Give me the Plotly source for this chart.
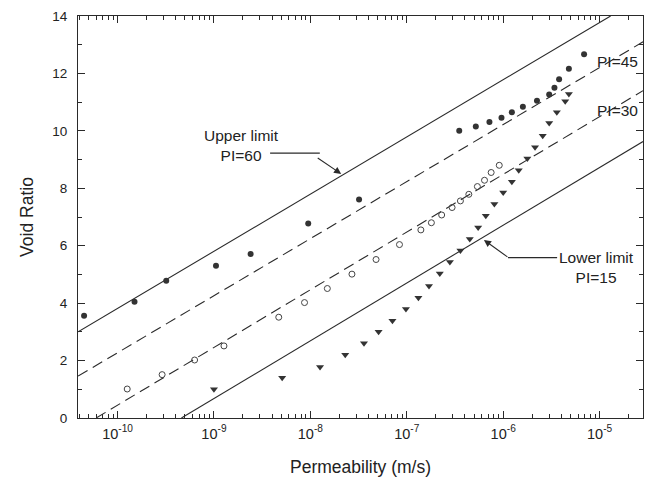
import plotly.graph_objects as go

# ---------------- data ----------------
# Bounding lines (endpoints, permeability in m/s, void ratio)
upper_k = [3.9e-11, 1.3e-5]
upper_e = [3.0, 14.0]
pi45_k = [3.9e-11, 2.82e-5]
pi45_e = [1.46, 13.1]
pi30_k = [6.0e-11, 2.82e-5]
pi30_e = [0.0, 11.4]
lower_k = [4.6e-10, 2.82e-5]
lower_e = [0.0, 9.63]

# Filled circles
fill_k = [4.5e-11, 1.5e-10, 3.2e-10, 1.05e-9, 2.4e-9, 9.5e-9, 3.2e-8,
          3.5e-7, 5.2e-7, 7.2e-7, 9.6e-7, 1.23e-6, 1.6e-6, 2.24e-6,
          3.0e-6, 3.4e-6, 3.8e-6, 4.8e-6, 6.9e-6]
fill_e = [3.56, 4.05, 4.78, 5.30, 5.71, 6.77, 7.61,
          10.00, 10.15, 10.31, 10.46, 10.65, 10.84, 11.05,
          11.27, 11.50, 11.80, 12.16, 12.67]

# Open circles
open_k = [1.26e-10, 2.9e-10, 6.3e-10, 1.27e-9, 4.7e-9, 8.7e-9, 1.5e-8,
          2.7e-8, 4.8e-8, 8.4e-8, 1.4e-7, 1.8e-7, 2.3e-7, 2.95e-7,
          3.6e-7, 4.4e-7, 5.4e-7, 6.4e-7, 7.5e-7, 9.1e-7]
open_e = [1.01, 1.51, 2.02, 2.51, 3.51, 4.02, 4.51,
          5.01, 5.52, 6.04, 6.55, 6.80, 7.07, 7.33,
          7.56, 7.79, 8.06, 8.28, 8.55, 8.80]

# Triangles
tri_k = [1.0e-9, 5.1e-9, 1.26e-8, 2.3e-8, 3.6e-8, 5.1e-8, 7.1e-8, 9.8e-8,
         1.32e-7, 1.7e-7, 2.2e-7, 2.8e-7, 3.6e-7, 4.5e-7, 5.5e-7, 6.6e-7,
         8.1e-7, 1.0e-6, 1.23e-6, 1.45e-6, 1.78e-6, 2.14e-6, 2.57e-6,
         3.0e-6, 3.6e-6, 4.4e-6, 4.8e-6]
tri_e = [1.00, 1.40, 1.78, 2.20, 2.60, 3.00, 3.39, 3.80,
         4.19, 4.60, 5.03, 5.43, 5.83, 6.23, 6.63, 7.04,
         7.45, 7.85, 8.23, 8.63, 9.04, 9.43, 9.83,
         10.27, 10.65, 11.03, 11.28]

x_tickvals = [1e-10, 1e-9, 1e-8, 1e-7, 1e-6, 1e-5]
x_ticktext = ["10<sup>-10</sup>", "10<sup>-9</sup>", "10<sup>-8</sup>",
              "10<sup>-7</sup>", "10<sup>-6</sup>", "10<sup>-5</sup>"]

# ---------------- figure ----------------
INK = "#2a2a2a"
FONT = "Liberation Sans, Arial, sans-serif"

fig = go.Figure()
fig.add_trace(go.Scatter(x=upper_k, y=upper_e, mode="lines",
                         line=dict(color=INK, width=1.1), showlegend=False))
fig.add_trace(go.Scatter(x=pi45_k, y=pi45_e, mode="lines",
                         line=dict(color=INK, width=1.1, dash="11px,6px"), showlegend=False))
fig.add_trace(go.Scatter(x=pi30_k, y=pi30_e, mode="lines",
                         line=dict(color=INK, width=1.1, dash="11px,6px"), showlegend=False))
fig.add_trace(go.Scatter(x=lower_k, y=lower_e, mode="lines",
                         line=dict(color=INK, width=1.1), showlegend=False))

fig.add_trace(go.Scatter(x=fill_k, y=fill_e, mode="markers",
                         marker=dict(symbol="circle", size=6, color="#333333",
                                     line=dict(width=0)), showlegend=False))
fig.add_trace(go.Scatter(x=open_k, y=open_e, mode="markers",
                         marker=dict(symbol="circle-open", size=6, color="#444444",
                                     line=dict(width=1)), showlegend=False))
fig.add_trace(go.Scatter(x=tri_k, y=tri_e, mode="markers",
                         marker=dict(symbol="triangle-down", size=7, color="#333333",
                                     line=dict(width=0)), showlegend=False))

axis_common = dict(showline=True, linecolor=INK, linewidth=1.2, mirror="ticks",
                   ticks="inside", tickcolor=INK, showgrid=False, zeroline=False)

fig.update_xaxes(type="log", range=[-10.41, -4.55], tickvals=x_tickvals,
                 ticktext=x_ticktext, ticklen=7, ticklabelstandoff=2,
                 tickfont=dict(family=FONT, size=14.5, color="#222"),
                 minor=dict(ticks="inside", ticklen=4, tickcolor=INK,
                            tickvals=[m * d for d in [1e-11, 1e-10, 1e-9, 1e-8, 1e-7, 1e-6, 1e-5]
                                      for m in range(2, 10)]),
                 title=dict(text="Permeability (m/s)", font=dict(family=FONT, size=17.5, color="#222"),
                            standoff=20),
                 **axis_common)
fig.update_yaxes(range=[0, 14], dtick=2, ticklen=7, ticklabelstandoff=7,
                 tickfont=dict(family=FONT, size=13.5, color="#222"),
                 minor=dict(ticks="inside", ticklen=4, dtick=1, tickcolor=INK),
                 title=dict(text="Void Ratio", font=dict(family=FONT, size=17.5, color="#222"),
                            standoff=14),
                 **axis_common)

ann_font = dict(family=FONT, size=15.5, color="#222")
fig.add_annotation(x=-8.71, y=9.49, xref="x", yref="y", text="Upper limit<br>PI=60",
                   showarrow=False, font=ann_font, align="center")
fig.add_annotation(x=-5.03, y=5.23, xref="x", yref="y", text="Lower limit<br>PI=15",
                   showarrow=False, font=ann_font, align="center")
fig.add_annotation(x=-4.81, y=12.40, xref="x", yref="y", text="PI=45",
                   showarrow=False, font=ann_font)
fig.add_annotation(x=-4.81, y=10.70, xref="x", yref="y", text="PI=30",
                   showarrow=False, font=ann_font)

# arrows (diagonal parts)
fig.add_annotation(x=-7.68, y=8.5, xref="x", yref="y", text="", showarrow=True,
                   ax=-25, ay=-17, arrowhead=2, arrowsize=1.3, arrowwidth=1.1,
                   arrowcolor=INK)
fig.add_annotation(x=-6.20, y=6.20, xref="x", yref="y", text="", showarrow=True,
                   ax=25, ay=18, arrowhead=2, arrowsize=1.3, arrowwidth=1.1,
                   arrowcolor=INK)
# horizontal parts of the leaders
fig.add_shape(type="line", xref="paper", yref="paper", x0=0.340, x1=0.428,
              y0=0.659, y1=0.659, line=dict(color=INK, width=1.1))
fig.add_shape(type="line", xref="paper", yref="paper", x0=0.761, x1=0.848,
              y0=0.399, y1=0.399, line=dict(color=INK, width=1.1))

fig.update_layout(width=648, height=478, margin=dict(l=78, r=5, t=16, b=60),
                  plot_bgcolor="white", paper_bgcolor="white",
                  font=dict(family=FONT, color="#222"))

fig.write_html("out.html")
